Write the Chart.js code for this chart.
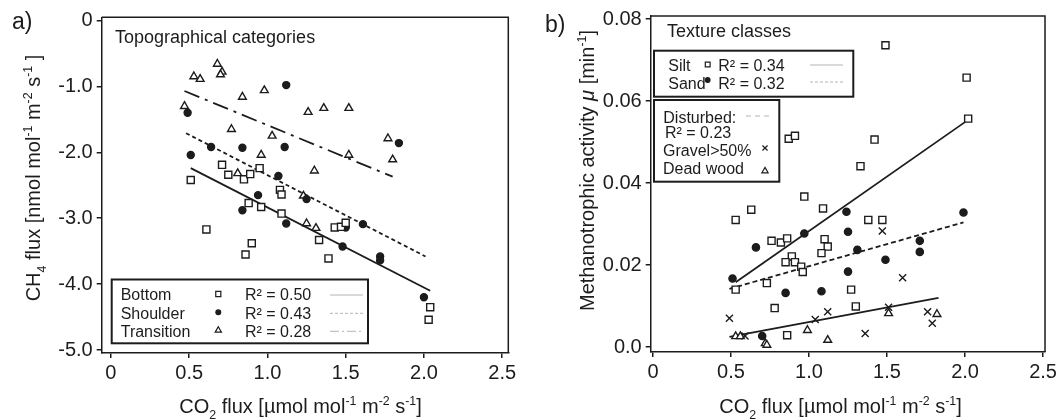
<!DOCTYPE html>
<html>
<head>
<meta charset="utf-8">
<script src="https://cdn.jsdelivr.net/npm/chart.js@4.4.1/dist/chart.umd.min.js"></script>
<style>
  html, body { margin: 0; padding: 0; background: #fff; }
  #wrap { position: relative; width: 1060px; height: 419px; }
  .panel { position: absolute; top: 0; width: 530px; height: 419px; }
</style>
</head>
<body>
<div id="wrap">
  <div class="panel" style="left:0"><canvas id="chartA" width="530" height="419"></canvas></div>
  <div class="panel" style="left:530px"><canvas id="chartB" width="530" height="419"></canvas></div>
</div>
<script>
// panel a) CH4 flux vs CO2 flux, topographical categories  [x, y]
const topoBottom = [
  [0.51,-2.42],[0.71,-2.19],[0.75,-2.34],[0.85,-2.41],[0.89,-2.33],[0.95,-2.24],[1.08,-2.57],
  [1.09,-2.64],[0.88,-2.77],[0.96,-2.83],[1.09,-2.93],[0.61,-3.17],[0.90,-3.38],[0.86,-3.55],
  [1.33,-3.33],[1.39,-3.61],[1.43,-3.14],[1.47,-3.13],[1.50,-3.07],[2.04,-4.35],[2.03,-4.54]
];
const topoShoulder = [
  [1.12,-0.98],[0.49,-1.40],[0.64,-1.92],[0.84,-1.93],[1.11,-1.92],[0.51,-2.04],[1.84,-1.86],
  [1.07,-2.36],[0.94,-2.65],[1.25,-2.71],[0.84,-2.88],[1.12,-3.08],[1.50,-3.14],[1.61,-3.09],
  [1.48,-3.43],[1.72,-3.58],[1.72,-3.64],[2.00,-4.20]
];
const topoTransition = [
  [0.68,-0.66],[0.53,-0.85],[0.57,-0.89],[0.71,-0.78],[0.70,-0.82],[0.84,-1.16],[0.98,-1.06],
  [0.47,-1.30],[0.77,-1.65],[1.03,-1.75],[1.26,-1.39],[1.36,-1.33],[1.52,-1.33],[1.77,-1.79],
  [1.52,-2.04],[1.80,-2.11],[0.96,-2.04],[1.30,-2.28],[0.81,-2.32],[1.23,-2.66],[1.25,-3.08],[1.31,-3.15]
];
const fitBottom = [[0.51,-2.24],[2.04,-4.10]];
const fitShoulder = [[0.48,-1.71],[2.01,-3.58]];
const fitTransition = [[0.47,-1.07],[1.80,-2.37]];
const topoNames = ['Bottom', 'Shoulder', 'Transition'];
const topoR2 = ['R\u00b2 = 0.50', 'R\u00b2 = 0.43', 'R\u00b2 = 0.28'];

// panel b) methanotrophic activity vs CO2 flux, texture classes
const silt = [
  [0.53,0.0310],[0.63,0.0335],[0.97,0.0367],[1.09,0.0338],[1.38,0.0310],[1.47,0.0310],[1.49,0.0736],
  [2.01,0.0657],[2.02,0.0557],[0.87,0.0508],[0.91,0.0515],[1.42,0.0506],[1.33,0.0441],[0.76,0.0259],
  [0.82,0.0255],[0.86,0.0265],[1.10,0.0263],[1.12,0.0245],[1.08,0.0229],[0.89,0.0221],[0.85,0.0207],
  [0.91,0.0207],[0.95,0.0196],[0.96,0.0183],[0.73,0.0156],[0.53,0.0140],[1.27,0.0140],[0.78,0.0095],
  [1.30,0.0099],[0.86,0.0029]
];
const sand = [
  [1.24,0.0330],[0.66,0.0243],[0.97,0.0277],[1.25,0.0281],[1.31,0.0237],[0.51,0.0167],[1.25,0.0184],
  [0.85,0.0132],[1.08,0.0136],[0.70,0.0027],[1.99,0.0328],[1.71,0.0259],[1.71,0.0232],[1.49,0.0213]
];
const gravel = [
  [0.49,0.0070],[0.59,0.0027],[1.12,0.0086],[1.04,0.0067],[1.36,0.0033],[1.47,0.0283],[1.60,0.0169],
  [1.51,0.0097],[1.76,0.0086],[1.79,0.0058]
];
const deadWood = [
  [0.53,0.0026],[0.56,0.0026],[0.99,0.0041],[1.12,0.0017],[0.72,0.0009],[0.73,0.0005],[1.51,0.0082],[1.82,0.0080]
];
const fitSilt = [[0.53,0.0158],[2.02,0.0554]];
const fitSand = [[0.49,0.0142],[1.99,0.0304]];
const fitDisturbed = [[0.49,0.0025],[1.83,0.0120]];

// ticks
const xTickValues = [0, 0.5, 1, 1.5, 2, 2.5];
const xTickLabels = ['0', '0.5', '1.0', '1.5', '2.0', '2.5'];
const yTickValuesA = [0, -1, -2, -3, -4, -5];
const yTickLabelsA = ['0', '-1.0', '-2.0', '-3.0', '-4.0', '-5.0'];
const yTickValuesB = [0, 0.02, 0.04, 0.06, 0.08];
const yTickLabelsB = ['0.0', '0.02', '0.04', '0.06', '0.08'];

const FONT = "'Liberation Sans', Arial, sans-serif";
const INK = '#1c1c1c';
const GREY = '#b4b4b4';

function axis(min, max, values, labels, isY) {
  return {
    type: 'linear', min: min, max: max,
    afterBuildTicks: s => { s.ticks = values.map(v => ({ value: v })); },
    afterFit: s => { if (isY) s.width = 60; else s.height = 50; },
    ticks: {
      autoSkip: false, maxRotation: 0, padding: isY ? 4 : 3, color: INK,
      font: { family: FONT, size: 20 },
      callback: (v, i) => labels[i]
    },
    grid: { drawOnChartArea: false, drawTicks: true, tickLength: 5, color: INK, lineWidth: 1.5 },
    border: { color: INK, width: 1.5 }
  };
}

function pts(data, style, r, fill) {
  return {
    type: 'scatter', data: data.map(([x, y]) => ({ x, y })),
    pointStyle: style, pointRadius: r, pointHoverRadius: r, pointBorderWidth: 1.4,
    pointBorderColor: INK, pointBackgroundColor: fill, showLine: false
  };
}

function fit(data, dash) {
  return {
    type: 'line', data: data.map(([x, y]) => ({ x, y })),
    borderColor: INK, borderWidth: 1.8, borderDash: dash,
    pointRadius: 0, showLine: true, fill: false, tension: 0
  };
}

// text with sub/superscripts: parts = [[text, kind]]
function richText(ctx, parts, x, y, size) {
  const fontOf = k => (k === 'it' ? 'italic ' : '') + ((k === 'sub' || k === 'sup') ? size * 0.62 : size) + 'px ' + FONT;
  const w = parts.map(([t, k]) => { ctx.font = fontOf(k); return ctx.measureText(t).width; });
  let cx = x - w.reduce((a, b) => a + b, 0) / 2;
  ctx.textAlign = 'left';
  ctx.textBaseline = 'alphabetic';
  parts.forEach(([t, k], i) => {
    ctx.font = fontOf(k);
    const dy = k === 'sub' ? size * 0.3 : k === 'sup' ? -size * 0.4 : 0;
    ctx.fillText(t, cx, y + dy);
    cx += w[i];
  });
}

function text(ctx, t, x, y, size) {
  ctx.font = size + 'px ' + FONT;
  ctx.textAlign = 'left';
  ctx.textBaseline = 'middle';
  ctx.fillText(t, x, y);
}

function marker(ctx, style, r, x, y, filled) {
  ctx.save();
  ctx.fillStyle = filled ? INK : '#fff';
  ctx.strokeStyle = INK;
  ctx.lineWidth = 1.2;
  Chart.helpers.drawPoint(ctx, { pointStyle: style, radius: r, rotation: 0, borderWidth: 1.2 }, x, y);
  ctx.restore();
}

function sample(ctx, x1, x2, y, dash) {
  ctx.save();
  ctx.strokeStyle = GREY;
  ctx.lineWidth = 1;
  ctx.setLineDash(dash);
  ctx.beginPath(); ctx.moveTo(x1, y); ctx.lineTo(x2, y); ctx.stroke();
  ctx.restore();
}

function box(ctx, x, y, w, h) {
  ctx.save();
  ctx.fillStyle = '#fff';
  ctx.fillRect(x, y, w, h);
  ctx.strokeStyle = INK;
  ctx.lineWidth = 2;
  ctx.strokeRect(x, y, w, h);
  ctx.restore();
}

const co2Title = [['CO',''],['2','sub'],[' flux [\u00b5mol mol',''],['-1','sup'],[' m',''],['-2','sup'],[' s',''],['-1','sup'],[']','']];
const ch4Title = [['CH',''],['4','sub'],[' flux [nmol mol',''],['-1','sup'],[' m',''],['-2','sup'],[' s',''],['-1','sup'],[' ]','']];
const muTitle = [['Methanotrophic activity ',''],['\u03bc','it'],[' [min',''],['-1','sup'],[']','']];

const frame = {
  id: 'frame',
  beforeDatasetsDraw(chart) {
    const { ctx, chartArea: a } = chart;
    ctx.save();
    ctx.strokeStyle = INK;
    ctx.lineWidth = 1.5;
    ctx.beginPath();
    ctx.moveTo(a.left, a.top); ctx.lineTo(a.right, a.top); ctx.lineTo(a.right, a.bottom);
    ctx.stroke();
    ctx.restore();
  }
};

const decoA = {
  id: 'decoA',
  afterDraw(chart) {
    const ctx = chart.ctx;
    ctx.save();
    ctx.fillStyle = INK;
    ctx.font = '23px ' + FONT; ctx.textAlign = 'left'; ctx.textBaseline = 'alphabetic';
    ctx.fillText('a)', 12, 29);
    text(ctx, 'Topographical categories', 115, 38, 18);
    box(ctx, 111.7, 279.5, 256.3, 63.8);
    ctx.fillStyle = INK;
    const rows = [296, 314.3, 332.3];
    const styles = [['rect', 3.6, false], ['circle', 2.4, true], ['triangle', 3.6, false]];
    const dashes = [[], [3, 2], [9, 3, 2, 3]];
    rows.forEach((y, i) => {
      text(ctx, topoNames[i], 120.7, y, 16);
      marker(ctx, styles[i][0], styles[i][1], 218.3, y - 2, styles[i][2]);
      text(ctx, topoR2[i], 245, y, 16);
      sample(ctx, 330, 363, y - 1, dashes[i]);
    });
    ctx.fillStyle = INK;
    richText(ctx, co2Title, 300.5, 413, 20);
    ctx.translate(39.5, 178);
    ctx.rotate(-Math.PI / 2);
    richText(ctx, ch4Title, 0, 0, 20);
    ctx.restore();
  }
};

const decoB = {
  id: 'decoB',
  afterDraw(chart) {
    const ctx = chart.ctx;
    ctx.save();
    ctx.fillStyle = INK;
    ctx.font = '23px ' + FONT; ctx.textAlign = 'left'; ctx.textBaseline = 'alphabetic';
    ctx.fillText('b)', 15, 32);
    text(ctx, 'Texture classes', 137, 32, 18);
    box(ctx, 124, 50.7, 199.3, 46);
    ctx.fillStyle = INK;
    text(ctx, 'Silt', 138.3, 67, 16);
    text(ctx, 'Sand', 138.3, 85, 16);
    marker(ctx, 'rect', 3.4, 177.7, 64.5, false);
    marker(ctx, 'circle', 2.3, 177.7, 80, true);
    text(ctx, 'R\u00b2 = 0.34', 188.3, 67, 16);
    text(ctx, 'R\u00b2 = 0.32', 188.3, 85, 16);
    sample(ctx, 280, 313, 65, []);
    sample(ctx, 280, 313, 82, [3, 2]);
    box(ctx, 124, 100, 125.3, 81.7);
    ctx.fillStyle = INK;
    text(ctx, 'Disturbed:', 133.3, 118.3, 16);
    sample(ctx, 216, 243, 116, [5, 4]);
    text(ctx, 'R\u00b2 = 0.23', 135, 134, 16);
    text(ctx, 'Gravel>50%', 133, 152, 16);
    marker(ctx, 'crossRot', 3.6, 235, 148, false);
    text(ctx, 'Dead wood', 133, 170, 16);
    marker(ctx, 'triangle', 3.6, 235, 171, false);
    ctx.fillStyle = INK;
    richText(ctx, co2Title, 310.5, 413, 20);
    ctx.translate(64, 170.5);
    ctx.rotate(-Math.PI / 2);
    richText(ctx, muTitle, 0, 0, 20);
    ctx.restore();
  }
};

const common = {
  responsive: false, animation: false, devicePixelRatio: 1,
  plugins: { legend: { display: false }, tooltip: { enabled: false } }
};

new Chart(document.getElementById('chartA'), {
  type: 'scatter',
  data: {
    datasets: [
      pts(topoBottom, 'rect', 5, '#fff'),
      pts(topoShoulder, 'circle', 3.5, INK),
      pts(topoTransition, 'triangle', 4.5, '#fff'),
      fit(fitBottom, []),
      fit(fitShoulder, [4, 3]),
      fit(fitTransition, [16, 6, 3, 6])
    ]
  },
  options: Object.assign({}, common, {
    layout: { padding: { left: 41.7, right: 21.7, top: 17.3, bottom: 16 } },
    scales: {
      x: axis(-0.059, 2.539, xTickValues, xTickLabels, false),
      y: axis(-5.045, 0.0486, yTickValuesA, yTickLabelsA, true)
    }
  }),
  plugins: [frame, decoA]
});

new Chart(document.getElementById('chartB'), {
  type: 'scatter',
  data: {
    datasets: [
      pts(silt, 'rect', 5, '#fff'),
      pts(sand, 'circle', 3.6, INK),
      pts(gravel, 'crossRot', 5, '#fff'),
      pts(deadWood, 'triangle', 4.5, '#fff'),
      fit(fitSilt, []),
      fit(fitSand, [5, 3]),
      fit(fitDisturbed, [])
    ]
  },
  options: Object.assign({}, common, {
    layout: { padding: { left: 60.7, right: 5, top: 14, bottom: 17 } },
    scales: {
      x: axis(-0.0144, 2.5125, xTickValues, xTickLabels, false),
      y: axis(-0.00121, 0.08073, yTickValuesB, yTickLabelsB, true)
    }
  }),
  plugins: [frame, decoB]
});
</script>
</body>
</html>
